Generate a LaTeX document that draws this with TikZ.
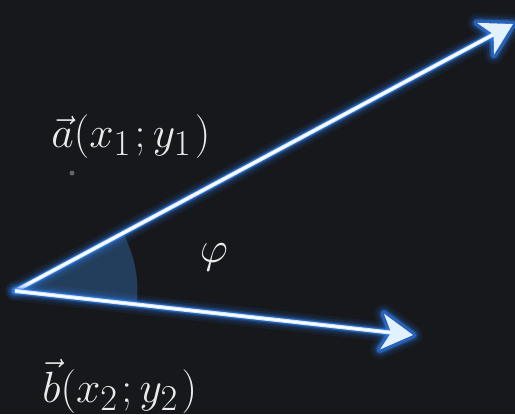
\documentclass[tikz,border=0pt]{standalone}
\usetikzlibrary{calc}
\DeclareMathSizes{28}{28}{20}{15}
\scriptspace=2.5pt
\definecolor{bgcol}{HTML}{16181B}
\definecolor{glowcol}{HTML}{2F80F5}
\definecolor{corecol}{HTML}{CFE7FF}
\definecolor{sectorcol}{HTML}{233E5C}
\definecolor{dotcol}{HTML}{5F6266}
\tikzset{
    glow layer/.style={
        glowcol,
        line join=round,
        line cap=round
    },
    vec label/.style={
        text=white!92!black,
        font=\fontsize{28}{33}\selectfont,
        inner sep=0pt
    }
}
% glowing vector from #1 to #2
\newcommand{\glowvec}[2]{
    \coordinate (#2n) at ($(#2)!0.44cm!(#1)$);
    \coordinate (#2l) at ($(#2)!0.72cm!30:(#1)$);
    \coordinate (#2r) at ($(#2)!0.72cm!-30:(#1)$);
    \foreach \w/\o in {11pt/0.08,8pt/0.12,5.5pt/0.24,3.8pt/0.55} {
        \draw [glow layer, line width=\w, opacity=\o] (#1) -- (#2n);
        \draw [glow layer, line width=\w, opacity=\o] (#2) -- (#2l) -- (#2n) -- (#2r) -- cycle;
    }
    \draw [corecol, line width=2.3pt] (#1) -- (#2n);
    \draw [white, line width=1.1pt] (#1) -- (#2n);
    \fill [corecol!60!white] (#2) -- (#2l) -- (#2n) -- (#2r) -- cycle;
}

\begin{document}
\begin{tikzpicture}[x=0.02cm, y=-0.02cm]
    \fill [bgcol] (0,0) rectangle (515,414);
    \useasboundingbox (0,0) rectangle (515,414);
    \coordinate (O) at (15,291);
    \coordinate (A) at (513,24);
    \coordinate (B) at (413,335);
    % angle between the vectors
    \fill [sectorcol] (O) -- ++(-6.17:2.45cm) arc [start angle=-6.17, end angle=28.2, radius=2.45cm] -- cycle;
    \glowvec{O}{A}
    \glowvec{O}{B}
    \node [vec label, anchor=base west] (alabel) at (51,147) {$\vec a(x_1;y_1)$};
    \node [vec label, anchor=base west] (blabel) at (42,402) {$\vec b(x_2;y_2)$};
    \node [vec label] (phi) at (214,257) {$\varphi$};
    \node [circle, fill=dotcol, inner sep=0pt, minimum size=0.1cm] (dot) at (72,173) {};
\end{tikzpicture}
\end{document}
